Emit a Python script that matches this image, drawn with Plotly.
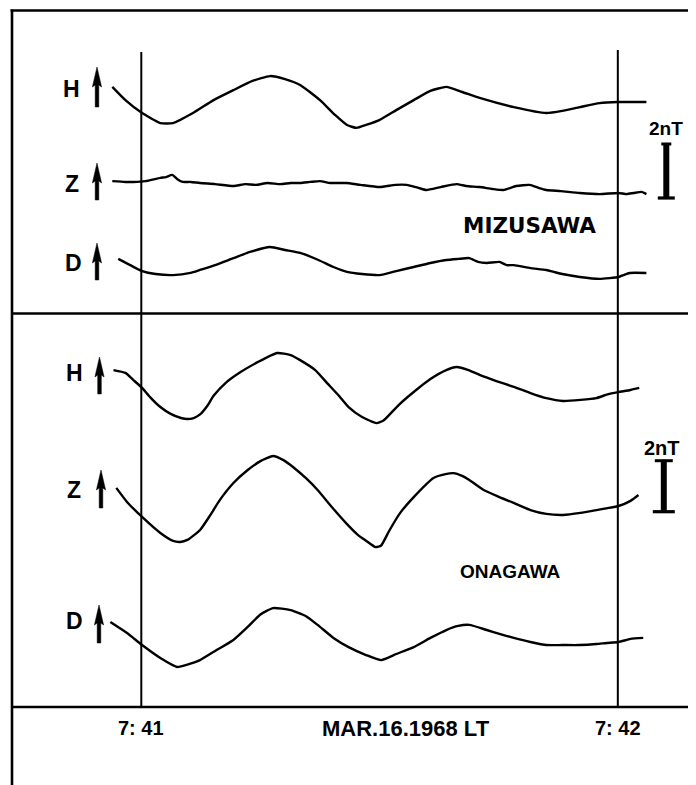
import plotly.graph_objects as go

# ---------------- data (time in s after 7:41:00 LT, field deviation in nT) ----------------
# MIZUSAWA
miz_h_t = [-3.65, -2.0, 0.1, 2.4, 4.0, 6.5, 9.1, 11.6, 14.0, 16.2, 18.1, 20.0, 22.5, 24.4, 25.9, 27.1,
           28.3, 29.97, 32.1, 34.3, 36.4, 38.4, 40.4, 42.6, 46.9, 51.0, 53.0, 55.2, 57.7, 60.0, 63.6]
miz_h_v = [0.56, 0.07, -0.41, -0.78, -0.78, -0.41, 0.07, 0.44, 0.78, 0.96, 0.85, 0.63, 0.07, -0.48, -0.85, -0.96,
           -0.85, -0.67, -0.30, 0.07, 0.41, 0.56, 0.37, 0.15, -0.19, -0.41, -0.33, -0.19, -0.04, 0.0, 0.0]

miz_z_t = [-3.65, -2.0, -1.0, 0.5, 2.4, 3.1, 3.9, 4.5, 5.2, 6.2, 7.4, 9.3, 11.6, 13.1, 14.4, 15.9, 17.5,
           18.8, 20.0, 21.3, 22.5, 23.8, 25.8, 27.6, 30.0, 32.0, 33.4, 34.9, 35.9, 37.7, 39.7, 40.9, 42.6,
           44.2, 45.6, 47.2, 48.9, 50.0, 51.0, 52.8, 55.2, 57.7, 60.1, 61.1, 62.0, 63.0, 63.6]
miz_z_v = [0.44, 0.41, 0.41, 0.44, 0.56, 0.59, 0.67, 0.52, 0.41, 0.41, 0.37, 0.33, 0.26, 0.33, 0.30, 0.37, 0.33,
           0.37, 0.37, 0.41, 0.44, 0.37, 0.37, 0.30, 0.22, 0.30, 0.30, 0.19, 0.11, 0.22, 0.33, 0.26, 0.22,
           0.15, 0.11, 0.26, 0.30, 0.19, 0.11, 0.07, 0.0, -0.04, 0.0, -0.04, 0.0, 0.04, -0.04]

miz_d_t = [-2.9, -1.4, 0.1, 1.8, 4.0, 6.2, 7.4, 9.3, 11.6, 13.7, 16.2, 18.1, 20.0, 22.3, 24.2, 25.9, 27.8,
           30.0, 32.1, 34.3, 36.4, 38.4, 39.9, 41.3, 42.4, 43.5, 45.1, 46.0, 46.9, 49.0, 51.0, 53.0, 55.2,
           57.7, 60.1, 60.7, 61.5, 63.6]
miz_d_v = [0.67, 0.44, 0.22, 0.11, 0.07, 0.15, 0.26, 0.44, 0.70, 0.93, 1.11, 1.00, 0.89, 0.63, 0.37, 0.19, 0.11,
           0.07, 0.22, 0.37, 0.52, 0.63, 0.67, 0.70, 0.56, 0.52, 0.56, 0.44, 0.44, 0.33, 0.26, 0.11, 0.0,
           -0.07, 0.0, 0.07, 0.15, 0.15]

# ONAGAWA
ona_h_t = [-3.5, -2.0, -1.0, 0.1, 1.1, 2.4, 3.7, 5.0, 5.8, 6.6, 7.4, 8.3, 9.1, 10.6, 12.5, 14.7, 17.1, 18.8, 20.0,
           21.9, 23.4, 24.8, 26.1, 27.8, 29.6, 30.5, 32.4, 34.3, 36.4, 38.4, 39.7, 41.2, 42.6, 44.7, 46.9,
           49.0, 51.0, 53.1, 55.3, 57.3, 58.8, 60.1, 61.6, 62.7]
ona_h_v = [0.86, 0.75, 0.47, 0.16, -0.20, -0.59, -0.86, -1.02, -1.06, -1.02, -0.88, -0.55, -0.15, 0.35, 0.78, 1.18,
           1.53, 1.45, 1.25, 0.86, 0.35, -0.12, -0.59, -0.98, -1.22, -1.12, -0.51, 0.0, 0.51, 0.86, 0.98, 0.86,
           0.67, 0.43, 0.20, -0.04, -0.24, -0.35, -0.31, -0.24, -0.08, 0.0, 0.08, 0.16]

ona_z_t = [-3.15, -1.8, 0.1, 2.4, 4.0, 4.9, 5.8, 7.4, 8.7, 9.9, 11.6, 13.4, 15.0, 16.6, 17.9, 19.1, 20.7,
           22.2, 24.1, 25.9, 27.3, 28.3, 29.5, 30.2, 31.2, 32.6, 34.3, 36.8, 38.3, 39.3, 40.4, 41.3, 43.1,
           44.8, 46.9, 49.0, 51.0, 53.1, 55.3, 57.3, 60.1, 61.6, 62.6]
ona_z_v = [0.71, 0.16, -0.43, -1.06, -1.37, -1.41, -1.33, -0.94, -0.35, 0.24, 0.90, 1.41, 1.76, 1.96, 1.80, 1.53,
           1.10, 0.63, -0.08, -0.71, -1.14, -1.36, -1.61, -1.55, -0.98, -0.27, 0.35, 1.10, 1.25, 1.29, 1.18,
           1.02, 0.63, 0.39, 0.12, -0.16, -0.31, -0.35, -0.27, -0.16, 0.0, 0.20, 0.43]

ona_d_t = [-3.9, -1.8, 0.1, 2.4, 4.5, 5.9, 7.4, 9.3, 11.6, 13.4, 15.0, 16.6, 18.8, 20.7, 22.2, 24.2, 26.1,
           28.3, 30.2, 32.1, 34.3, 36.4, 38.4, 39.9, 41.3, 43.5, 45.2, 46.9, 49.0, 51.0, 53.0, 55.2, 57.3,
           58.6, 60.1, 61.6, 63.2]
ona_d_v = [0.78, 0.35, -0.12, -0.63, -0.98, -0.88, -0.71, -0.35, 0.08, 0.59, 1.08, 1.33, 1.25, 1.02, 0.67, 0.16,
           -0.20, -0.51, -0.71, -0.47, -0.20, 0.16, 0.47, 0.63, 0.67, 0.47, 0.31, 0.16, 0.0, -0.12, -0.12,
           -0.12, -0.08, -0.04, 0.0, 0.12, 0.16]

component_labels = ["H", "Z", "D"]
station_names = ["MIZUSAWA", "ONAGAWA"]
time_tick_values = [0, 60]
time_tick_labels = ["7: 41", "7: 42"]
date_label = "MAR.16.1968 LT"
scale_nt = 2
scale_label = "2nT"

# ---------------- layout helpers ----------------
# The page body has an 8px margin; the figure is sized so it fills the window exactly.
PAGE_W, PAGE_H = 696, 785
OFF = 8
W, H = PAGE_W - OFF, PAGE_H - OFF


def X(px):
    return (px - OFF) / W


def Y(py):
    return 1 - (py - OFF) / H


TOP_SCALE = 27.0      # px per nT (upper panel)
BOT_SCALE = 25.5      # px per nT (lower panel)
SPLIT = 313           # page px of the panel divider
PX_PER_S = 7.942
X0_PX = 141.3         # page px of 7:41

top_domain = [Y(SPLIT), Y(OFF)]
bot_domain = [Y(PAGE_H), Y(SPLIT)]
top_range = [0, (SPLIT - OFF) / TOP_SCALE]
bot_range = [0, (PAGE_H - SPLIT) / BOT_SCALE]
x_range = [(OFF - X0_PX) / PX_PER_S, (PAGE_W - X0_PX) / PX_PER_S]

# stacking offsets (nT on each panel axis)
top_offsets = [(SPLIT - p) / TOP_SCALE for p in (102, 193, 277)]
bot_offsets = [(PAGE_H - p) / BOT_SCALE for p in (392, 506, 642)]

fig = go.Figure()

line_style = dict(color="black", width=2.4, shape="spline", smoothing=0.5)

top_series = [(miz_h_t, miz_h_v), (miz_z_t, miz_z_v), (miz_d_t, miz_d_v)]
bot_series = [(ona_h_t, ona_h_v), (ona_z_t, ona_z_v), (ona_d_t, ona_d_v)]

for (t, v), off in zip(top_series, top_offsets):
    fig.add_trace(go.Scatter(x=t, y=[off + a for a in v], mode="lines", line=line_style,
                             xaxis="x", yaxis="y", showlegend=False, hoverinfo="skip"))
for (t, v), off in zip(bot_series, bot_offsets):
    fig.add_trace(go.Scatter(x=t, y=[off + a for a in v], mode="lines", line=line_style,
                             xaxis="x2", yaxis="y2", showlegend=False, hoverinfo="skip"))

shapes = []
frame = dict(color="black", width=2.6)
shapes.append(dict(type="line", xref="paper", yref="paper", x0=X(10.5), x1=1, y0=Y(10.5), y1=Y(10.5), line=frame))
shapes.append(dict(type="line", xref="paper", yref="paper", x0=X(12), x1=X(12), y0=Y(9.5), y1=0, line=frame))
shapes.append(dict(type="line", xref="paper", yref="paper", x0=X(12), x1=1, y0=Y(313.5), y1=Y(313.5), line=frame))
shapes.append(dict(type="line", xref="paper", yref="paper", x0=X(12), x1=1, y0=Y(707), y1=Y(707), line=frame))

# time marker lines at 7:41 and 7:42
for tv, top in zip(time_tick_values, [52, 50]):
    shapes.append(dict(type="line", xref="x", yref="paper", x0=tv, x1=tv, y0=Y(top), y1=Y(707),
                       line=dict(color="black", width=2)))


def arrow(xc, ytip, ybot):
    hl, hw, sw = 20, 4.6, 1.8
    pts = [(xc, ytip), (xc + hw, ytip + hl), (xc + sw, ytip + hl - 2), (xc + sw, ybot), (xc - sw, ybot),
           (xc - sw, ytip + hl - 2), (xc - hw, ytip + hl)]
    path = "M " + " L ".join(f"{X(a):.5f},{Y(b):.5f}" for a, b in pts) + " Z"
    return dict(type="path", xref="paper", yref="paper", path=path, fillcolor="black",
                line=dict(color="black", width=0.5))


for xc, yt, yb in [(97, 67, 107), (97, 163, 200), (97, 243, 280),
                   (99.5, 357, 394), (101, 470, 508), (99, 605, 643)]:
    shapes.append(arrow(xc, yt, yb))


# 2 nT scale bars, drawn in data units on each panel axis
def scale_bar(yref, base, xc, top_half, bot_half):
    return [dict(type="rect", xref="paper", yref=yref, x0=X(xc - 3), x1=X(xc + 3), y0=base,
                 y1=base + scale_nt, fillcolor="black", line=dict(width=0)),
            dict(type="line", xref="paper", yref=yref, x0=X(xc - top_half), x1=X(xc + top_half),
                 y0=base + scale_nt, y1=base + scale_nt, line=dict(color="black", width=3)),
            dict(type="line", xref="paper", yref=yref, x0=X(xc - bot_half), x1=X(xc + bot_half),
                 y0=base, y1=base, line=dict(color="black", width=3.2))]


shapes += scale_bar("y", (SPLIT - 198) / TOP_SCALE, 666.3, 5, 8.5)
shapes += scale_bar("y2", (PAGE_H - 511.7) / BOT_SCALE, 663.8, 9, 11)

annotations = []


def label(text, x, y, font, xref="paper"):
    annotations.append(dict(text=text, x=x, y=y, xref=xref, yref="paper", showarrow=False,
                            font=font, xanchor="center", yanchor="middle"))


lab_font = dict(family="Liberation Sans", size=23, color="black")
for lab, (xc, yc) in zip(component_labels * 2,
                         [(71.5, 89), (71.5, 184), (73, 263), (74.5, 373), (74.2, 489.5), (74.5, 621)]):
    label(f"<b>{lab}</b>", X(xc), Y(yc), lab_font)

label(f"<b>{station_names[0]}</b>", X(529.5), Y(225.5), dict(family="DejaVu Sans", size=21.5, color="black"))
label(f"<b>{station_names[1]}</b>", X(510.5), Y(571.5), dict(family="Liberation Sans", size=19, color="black"))

label(f"<b>{scale_label}</b>", X(666), Y(128), dict(family="Liberation Sans", size=19, color="black"))
label(f"<b>{scale_label}</b>", X(661.5), Y(448), dict(family="Liberation Sans", size=20, color="black"))

# time axis labels
for tv, tl in zip(time_tick_values, time_tick_labels):
    label(f"<b>{tl}</b>", tv, Y(728), dict(family="Liberation Sans", size=20, color="black"), xref="x2")
label(f"<b>{date_label}</b>", X(405.5), Y(728), dict(family="Liberation Sans", size=22, color="black"))

fig.update_layout(
    width=W, height=H, autosize=False,
    margin=dict(l=0, r=0, t=0, b=0),
    paper_bgcolor="white", plot_bgcolor="white",
    xaxis=dict(domain=[0, 1], range=x_range, visible=False, anchor="y", fixedrange=True),
    yaxis=dict(domain=top_domain, range=top_range, visible=False, anchor="x", fixedrange=True),
    xaxis2=dict(domain=[0, 1], range=x_range, visible=False, anchor="y2", fixedrange=True),
    yaxis2=dict(domain=bot_domain, range=bot_range, visible=False, anchor="x2", fixedrange=True),
    shapes=shapes,
    annotations=annotations,
    showlegend=False,
)

fig.write_html("out.html")
